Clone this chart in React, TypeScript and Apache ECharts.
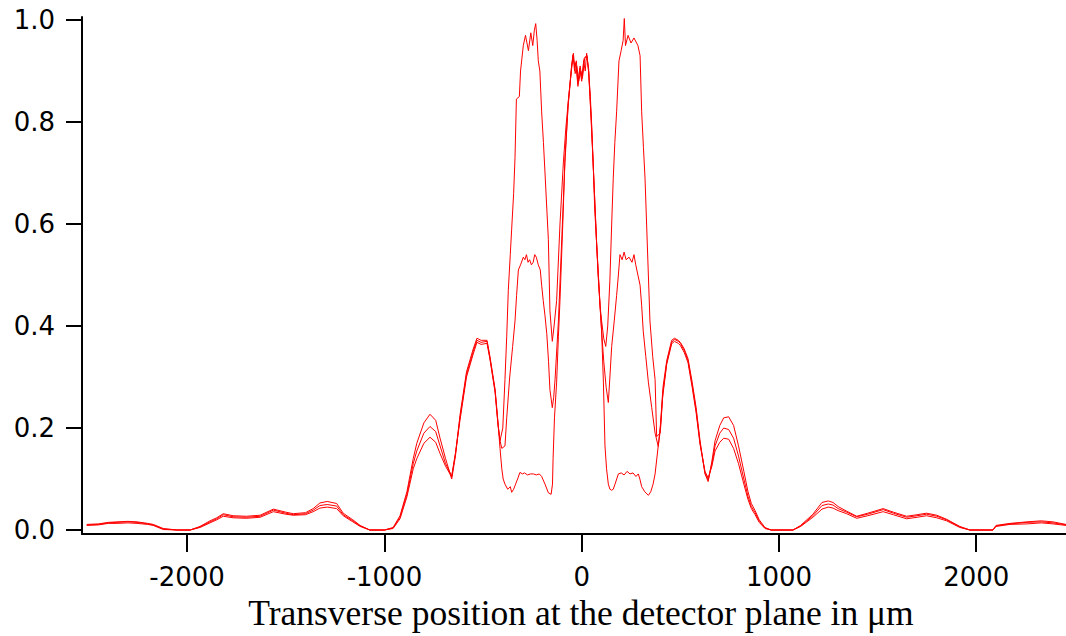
import React, { useEffect, useRef } from "react";
import * as echarts from "echarts";

const xTicks = [-2000, -1000, 0, 1000, 2000];
const yTicks = [0, 0.2, 0.4, 0.6, 0.8, 1.0];
const xTitle = "Transverse position at the detector plane in μm";

const tallCurve: [number, number][] = [
  [-2509, 0.009], [-2450, 0.01], [-2400, 0.013], [-2356, 0.013], [-2300, 0.014], [-2254, 0.013], [-2200, 0.011], [-2172, 0.009], [-2121, 0.001], [-2050, 0], [-1985, 0], [-1935, 0.005], [-1884, 0.014], [-1850, 0.02], [-1817, 0.027], [-1767, 0.024], [-1700, 0.023], [-1630, 0.025], [-1563, 0.036], [-1500, 0.031], [-1462, 0.029], [-1400, 0.03], [-1361, 0.036], [-1327, 0.043], [-1290, 0.045], [-1242, 0.042], [-1209, 0.028], [-1160, 0.016], [-1123, 0.007], [-1074, 0], [-1000, 0], [-956, 0.003], [-921, 0.022], [-886, 0.065], [-854, 0.12], [-836, 0.14], [-800, 0.17], [-769, 0.182], [-740, 0.172], [-718, 0.15], [-690, 0.125], [-659, 0.104], [-640, 0.15], [-617, 0.215], [-584, 0.3], [-550, 0.345], [-531, 0.368], [-510, 0.364], [-480, 0.366], [-465, 0.335], [-439, 0.27], [-424, 0.205],
  [-414, 0.175], [-400, 0.2], [-389, 0.295], [-380, 0.38], [-372, 0.47], [-362, 0.54], [-355, 0.59], [-345, 0.66], [-338, 0.73], [-331, 0.845], [-316, 0.85], [-310, 0.9], [-296, 0.95], [-285, 0.97], [-270, 0.94], [-258, 0.975], [-248, 0.95], [-240, 0.98], [-233, 0.993], [-226, 0.96], [-220, 0.92], [-212, 0.9], [-203, 0.82], [-194, 0.76], [-186, 0.7], [-169, 0.57], [-161, 0.43], [-149, 0.37], [-140, 0.4], [-127, 0.45], [-110, 0.6], [-93, 0.72], [-80, 0.79], [-68, 0.84], [-51, 0.91], [-44, 0.932], [-36, 0.9], [-30, 0.915], [-19, 0.87], [-10, 0.905], [0, 0.88], [10, 0.92], [18, 0.9], [25, 0.935], [35, 0.9], [42, 0.85], [50, 0.8], [58, 0.72], [66, 0.63], [76, 0.56], [83, 0.5], [93, 0.44], [101, 0.41], [112, 0.375], [122, 0.36], [132, 0.4], [143, 0.49], [152, 0.6], [160, 0.69], [168, 0.76], [177, 0.82], [189, 0.92], [200, 0.94], [210, 0.96], [216, 1.003], [222, 0.95], [235, 0.97], [250, 0.955], [265, 0.965], [285, 0.95], [296, 0.93], [304, 0.82], [313, 0.75], [321, 0.69], [329, 0.6], [338, 0.5], [346, 0.41], [360, 0.34], [372, 0.295], [380, 0.183],
  [397, 0.19], [410, 0.26], [431, 0.325], [456, 0.365], [470, 0.37], [490, 0.366], [500, 0.362], [520, 0.348], [539, 0.328], [560, 0.28], [580, 0.23], [600, 0.168], [625, 0.115], [641, 0.102], [660, 0.125], [676, 0.155], [700, 0.172], [720, 0.18], [745, 0.178], [770, 0.16], [795, 0.13], [822, 0.09], [843, 0.06], [860, 0.042], [879, 0.03], [900, 0.015], [929, 0.003], [960, 0], [1071, 0], [1110, 0.007], [1172, 0.025], [1218, 0.041], [1250, 0.045], [1274, 0.043], [1300, 0.038], [1343, 0.032], [1394, 0.023], [1450, 0.028], [1528, 0.036], [1580, 0.03], [1647, 0.022], [1700, 0.025], [1748, 0.028], [1800, 0.024], [1850, 0.018], [1917, 0.005], [1968, 0], [2085, 0], [2100, 0.007], [2171, 0.011], [2257, 0.012], [2330, 0.014], [2389, 0.012], [2455, 0.009],
];

const midCurve: [number, number][] = [
  [-2509, 0.01], [-2450, 0.011], [-2400, 0.014], [-2356, 0.015], [-2300, 0.016], [-2254, 0.015], [-2200, 0.012], [-2172, 0.01], [-2121, 0.002], [-2050, 0], [-1985, 0], [-1935, 0.006], [-1884, 0.016], [-1850, 0.022], [-1817, 0.03], [-1767, 0.026], [-1700, 0.025], [-1630, 0.027], [-1563, 0.039], [-1500, 0.033], [-1462, 0.03], [-1400, 0.032], [-1361, 0.039], [-1327, 0.048], [-1290, 0.05], [-1242, 0.047], [-1209, 0.03], [-1160, 0.018], [-1123, 0.008], [-1074, 0], [-1000, 0], [-956, 0.004], [-921, 0.025], [-886, 0.07], [-854, 0.13], [-836, 0.155], [-800, 0.19], [-769, 0.203], [-740, 0.193], [-718, 0.165], [-690, 0.13], [-659, 0.106], [-640, 0.15], [-617, 0.22], [-584, 0.305], [-550, 0.35], [-531, 0.372], [-510, 0.368], [-480, 0.37], [-465, 0.337], [-439, 0.273], [-424, 0.207],
  [-414, 0.175], [-405, 0.16], [-389, 0.165], [-380, 0.22], [-365, 0.3], [-350, 0.36], [-338, 0.41], [-330, 0.46], [-321, 0.51], [-310, 0.52], [-296, 0.535], [-288, 0.53], [-280, 0.54], [-272, 0.525], [-264, 0.53], [-255, 0.52], [-246, 0.525], [-238, 0.54], [-230, 0.535], [-220, 0.52], [-210, 0.51], [-203, 0.48], [-195, 0.45], [-186, 0.42], [-177, 0.385], [-168, 0.33], [-161, 0.275], [-149, 0.24], [-142, 0.26], [-135, 0.295], [-118, 0.41], [-100, 0.58], [-85, 0.72], [-68, 0.84], [-51, 0.905], [-44, 0.928], [-35, 0.91], [-27, 0.92], [-19, 0.875], [-8, 0.91], [2, 0.885], [12, 0.925], [25, 0.93], [35, 0.905], [42, 0.85], [58, 0.72], [76, 0.56], [93, 0.44], [101, 0.39], [112, 0.33], [124, 0.28], [135, 0.25], [143, 0.3], [152, 0.36], [165, 0.41], [177, 0.46], [186, 0.5], [194, 0.54], [205, 0.53], [215, 0.545], [225, 0.53], [240, 0.535], [255, 0.525], [265, 0.54], [274, 0.52], [285, 0.5], [296, 0.48], [304, 0.44], [312, 0.39], [325, 0.34], [338, 0.29], [355, 0.24], [372, 0.19], [388, 0.164],
  [400, 0.2], [412, 0.27], [431, 0.328], [456, 0.368], [470, 0.374], [490, 0.37], [500, 0.366], [520, 0.352], [539, 0.332], [560, 0.285], [580, 0.235], [600, 0.17], [625, 0.112], [641, 0.098], [660, 0.13], [676, 0.165], [700, 0.19], [720, 0.2], [745, 0.197], [770, 0.18], [795, 0.145], [822, 0.1], [843, 0.066], [860, 0.046], [879, 0.034], [900, 0.017], [929, 0.004], [960, 0], [1071, 0], [1110, 0.008], [1172, 0.028], [1218, 0.048], [1250, 0.051], [1274, 0.049], [1300, 0.042], [1343, 0.035], [1394, 0.026], [1450, 0.031], [1528, 0.04], [1580, 0.033], [1647, 0.025], [1700, 0.028], [1748, 0.031], [1800, 0.027], [1850, 0.02], [1917, 0.006], [1968, 0], [2085, 0], [2100, 0.008], [2171, 0.012], [2257, 0.015], [2330, 0.016], [2389, 0.014], [2455, 0.01],
];

const lowCurve: [number, number][] = [
  [-2509, 0.011], [-2450, 0.012], [-2400, 0.015], [-2356, 0.016], [-2300, 0.017], [-2254, 0.016], [-2200, 0.013], [-2172, 0.011], [-2121, 0.003], [-2050, 0], [-1985, 0], [-1935, 0.007], [-1884, 0.018], [-1850, 0.024], [-1817, 0.032], [-1767, 0.028], [-1700, 0.027], [-1630, 0.029], [-1563, 0.041], [-1500, 0.035], [-1462, 0.032], [-1400, 0.034], [-1361, 0.042], [-1327, 0.053], [-1290, 0.056], [-1242, 0.052], [-1209, 0.033], [-1160, 0.02], [-1123, 0.009], [-1074, 0], [-1000, 0], [-956, 0.005], [-921, 0.028], [-886, 0.075], [-854, 0.14], [-836, 0.17], [-800, 0.21], [-769, 0.227], [-740, 0.215], [-718, 0.18], [-690, 0.14], [-659, 0.1], [-640, 0.145], [-617, 0.225], [-584, 0.31], [-550, 0.355], [-531, 0.376], [-510, 0.372], [-480, 0.372], [-465, 0.34], [-439, 0.276], [-424, 0.21],
  [-414, 0.16], [-405, 0.12], [-398, 0.1], [-389, 0.09], [-375, 0.08], [-362, 0.085], [-355, 0.074], [-345, 0.08], [-335, 0.09], [-325, 0.1], [-313, 0.113], [-300, 0.11], [-290, 0.112], [-275, 0.108], [-260, 0.11], [-245, 0.11], [-230, 0.108], [-215, 0.11], [-203, 0.105], [-186, 0.09], [-169, 0.073], [-155, 0.07], [-148, 0.09], [-145, 0.14], [-138, 0.22], [-127, 0.29], [-118, 0.38], [-110, 0.45], [-94, 0.62], [-85, 0.73], [-69, 0.83], [-51, 0.91], [-42, 0.935], [-33, 0.895], [-25, 0.91], [-15, 0.88], [-5, 0.9], [5, 0.89], [15, 0.925], [27, 0.93], [36, 0.895], [44, 0.85], [58, 0.72], [76, 0.56], [93, 0.44], [101, 0.39], [110, 0.29], [118, 0.165], [126, 0.12], [135, 0.09], [143, 0.08], [152, 0.078], [160, 0.08], [169, 0.09], [186, 0.11], [200, 0.112], [215, 0.108], [230, 0.115], [245, 0.11], [260, 0.112], [275, 0.105], [287, 0.11], [295, 0.1], [304, 0.085], [320, 0.075], [338, 0.068], [350, 0.075], [362, 0.09], [372, 0.11], [388, 0.165],
  [400, 0.21], [412, 0.28], [431, 0.332], [456, 0.372], [470, 0.376], [490, 0.372], [500, 0.368], [520, 0.355], [539, 0.336], [560, 0.29], [580, 0.24], [600, 0.175], [625, 0.11], [641, 0.095], [660, 0.135], [676, 0.175], [700, 0.205], [720, 0.22], [745, 0.222], [770, 0.205], [795, 0.165], [822, 0.115], [843, 0.075], [860, 0.052], [879, 0.038], [900, 0.02], [929, 0.005], [960, 0], [1071, 0], [1110, 0.009], [1172, 0.031], [1218, 0.054], [1250, 0.057], [1274, 0.054], [1300, 0.046], [1343, 0.037], [1394, 0.027], [1450, 0.033], [1528, 0.042], [1580, 0.035], [1647, 0.027], [1700, 0.03], [1748, 0.033], [1800, 0.029], [1850, 0.021], [1917, 0.007], [1968, 0], [2085, 0], [2100, 0.009], [2171, 0.013], [2257, 0.016], [2330, 0.018], [2389, 0.016], [2455, 0.011],
];

const curves = [tallCurve, midCurve, lowCurve];

export default function App() {
  const ref = useRef<HTMLDivElement>(null);
  useEffect(() => {
    const chart = echarts.init(ref.current!, null, { renderer: "svg" });
    const labelFont = { fontFamily: "DejaVu Sans", fontSize: 26, color: "#000" };
    chart.setOption({
      animation: false,
      backgroundColor: "#fff",
      grid: { left: 82, right: 0, top: 17, bottom: 99, containLabel: false },
      xAxis: {
        type: "value",
        min: -2533,
        max: 2455,
        name: xTitle,
        nameLocation: "middle",
        nameGap: 60,
        nameTextStyle: { fontFamily: "Liberation Serif", fontSize: 35.5, color: "#000", padding: [0, 0, 0, 14] },
        axisLine: { show: true, onZero: false, lineStyle: { color: "#000", width: 2 } },
        axisTick: { show: true, length: 18, customValues: xTicks, lineStyle: { color: "#000", width: 2 } },
        axisLabel: { ...labelFont, margin: 30, customValues: xTicks, formatter: (v: number) => String(v) },
        splitLine: { show: false },
      },
      yAxis: {
        type: "value",
        min: -0.008,
        max: 1.006,
        axisLine: { show: true, onZero: false, lineStyle: { color: "#000", width: 2 } },
        axisTick: { show: true, length: 16, customValues: yTicks, lineStyle: { color: "#000", width: 2 } },
        axisLabel: { ...labelFont, margin: 27, customValues: yTicks, formatter: (v: number) => v.toFixed(1) },
        splitLine: { show: false },
      },
      series: curves.map((c) => ({
        type: "line",
        data: c,
        showSymbol: false,
        symbol: "none",
        lineStyle: { color: "#ff0000", width: 1 },
      })),
    });
    return () => chart.dispose();
  }, []);
  return (
    <div
      ref={ref}
      style={{ position: "fixed", left: 0, top: 0, width: 1066, height: 636, background: "#fff" }}
    />
  );
}
